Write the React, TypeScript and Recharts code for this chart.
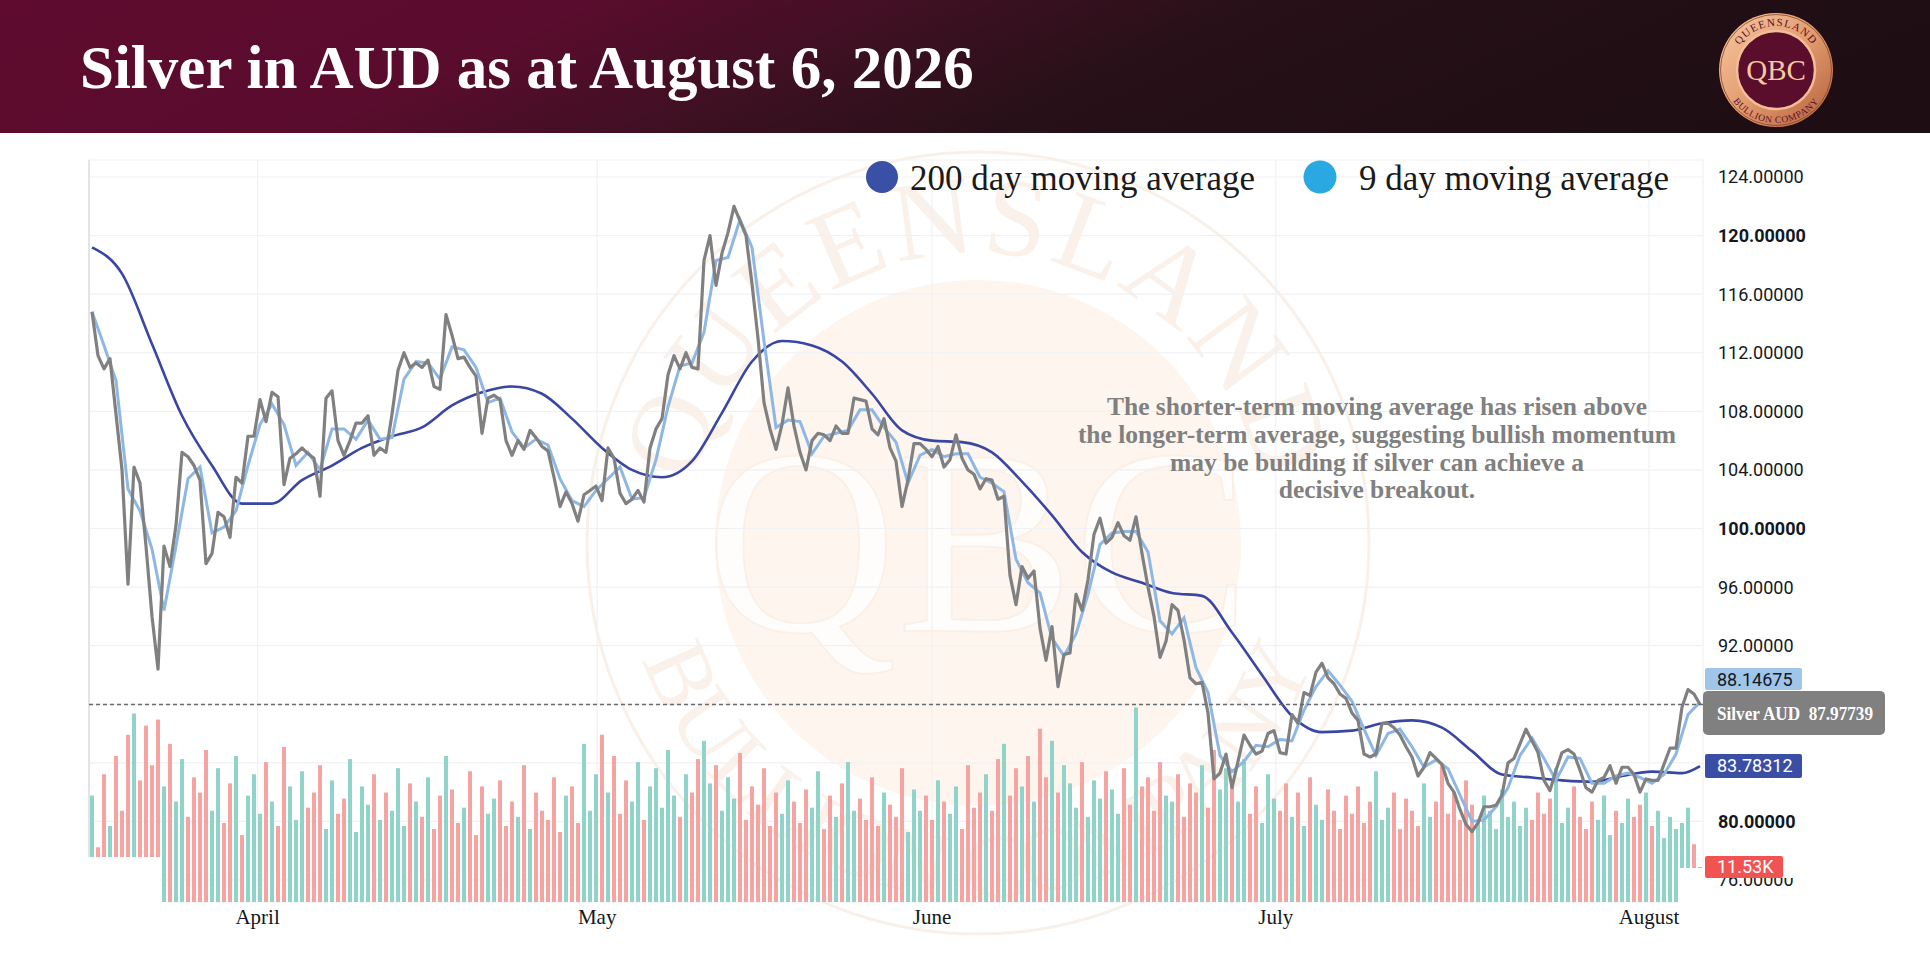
import React from 'react';
import { ComposedChart, Line, Bar, Cell, XAxis, YAxis, CartesianGrid, ReferenceLine } from 'recharts';

const SERIF = "'Liberation Serif', 'Times New Roman', serif";
const SANS = "Roboto, 'Noto Sans', sans-serif";

// Silver AUD price, one sample per ~1/3 trading day
const price = [
  114.8, 111.8, 110.9, 111.6, 107.8, 104.0, 96.2, 104.2, 103.1, 98.8,
  94.0, 90.4, 98.8, 97.4, 100.2, 105.2, 104.9, 104.3, 103.3, 97.6,
  98.3, 101.1, 100.8, 99.4, 103.5, 103.1, 106.3, 106.3, 108.8, 107.3,
  109.3, 109.0, 103.0, 104.8, 105.1, 105.5, 105.1, 104.8, 102.2, 108.9,
  109.4, 106.0, 105.0, 106.0, 107.2, 107.2, 107.7, 105.0, 105.5, 105.2,
  107.8, 110.8, 112.0, 111.0, 111.3, 111.0, 111.5, 109.7, 109.5, 114.6,
  113.2, 111.6, 111.7, 111.0, 110.4, 106.5, 108.9, 109.1, 108.8, 106.0,
  105.0, 106.0, 105.4, 106.7, 106.2, 105.6, 105.3, 103.5, 101.5, 102.5,
  101.7, 100.5, 102.3, 102.6, 102.9, 101.9, 105.5, 104.8, 102.4, 101.7,
  102.0, 102.6, 101.8, 105.5, 106.8, 107.5, 110.5, 111.8, 110.9, 112.0,
  111.0, 110.9, 118.3, 120.0, 116.6, 118.8, 120.2, 122.0, 121.0, 120.0,
  116.7, 113.0, 108.6, 106.8, 105.4, 107.1, 109.6, 107.0, 105.2, 104.0,
  106.0, 106.5, 106.4, 106.0, 107.0, 106.5, 106.5, 108.9, 108.8, 108.7,
  106.8, 106.4, 107.5, 105.5, 104.6, 101.5, 103.3, 105.8, 105.8, 105.4,
  104.9, 105.6, 104.2, 104.7, 106.4, 104.8, 104.0, 103.7, 102.7, 103.4,
  103.3, 102.0, 102.2, 96.8, 94.8, 97.4, 96.6, 97.1, 93.2, 91.0,
  93.3, 89.2, 91.4, 91.5, 95.5, 94.4, 96.5, 99.6, 100.7, 99.0,
  99.4, 100.4, 99.5, 99.2, 100.8, 98.3, 96.0, 94.0, 91.2, 92.3,
  94.8, 94.4, 92.4, 89.8, 89.4, 89.5, 87.4, 82.9, 83.3, 84.6,
  82.3, 84.1, 85.9, 85.2, 84.6, 84.8, 86.0, 86.2, 84.7, 84.6,
  87.3, 86.7, 88.8, 88.6, 90.2, 90.8, 89.8, 89.4, 88.7, 88.4,
  87.4, 86.9, 84.6, 84.4, 84.6, 86.7, 86.7, 86.4, 85.9, 85.1,
  84.4, 83.1, 83.7, 84.7, 84.3, 83.9, 82.6, 82.0, 80.8, 79.8,
  79.3, 79.9, 81.0, 81.0, 81.1, 81.8, 84.0, 84.3, 85.3, 86.3,
  85.5, 84.7, 82.8, 82.1, 83.5, 84.7, 84.9, 84.6, 83.5, 82.3,
  82.0, 82.8, 83.0, 83.8, 82.6, 83.7, 83.7, 83.2, 82.0, 82.9,
  82.8, 82.8, 83.9, 85.0, 85.0, 87.8, 89.0, 88.7, 87.97739,
];

// 9 day moving average, every second sample
const ma9Every2 = [
  114.8, 112.5, 110.1, 102.7, 101.2, 98.6, 94.4, 98.8, 103.4, 104.2,
  99.7, 100.1, 101.2, 104.3, 107.1, 108.5, 107.1, 104.3, 105.2, 104.0,
  106.8, 106.8, 106.1, 107.4, 106.1, 106.2, 110.2, 111.4, 111.3, 110.2,
  112.4, 112.2, 111.0, 108.6, 108.9, 106.6, 105.5, 106.1, 105.7, 103.4,
  101.9, 101.5, 102.6, 103.4, 104.2, 102.0, 102.1, 104.7, 108.3, 111.1,
  111.3, 113.4, 118.3, 118.5, 121.1, 119.2, 112.8, 106.9, 107.4, 107.3,
  105.1, 106.3, 106.5, 106.7, 108.1, 108.1, 106.9, 105.9, 103.1, 105.0,
  105.4, 104.9, 105.1, 105.1, 103.5, 103.1, 102.5, 97.9, 96.3, 95.6,
  92.5, 91.3, 92.8, 95.5, 98.9, 99.7, 99.8, 99.8, 98.4, 93.7,
  92.8, 93.9, 90.5, 88.8, 84.5, 83.4, 84.1, 85.2, 85.1, 85.6,
  85.5, 87.6, 89.2, 90.3, 89.3, 88.2, 86.3, 84.5, 86.0, 86.3,
  85.1, 83.7, 84.2, 83.6, 81.8, 80.0, 80.1, 81.0, 82.3, 84.5,
  85.7, 84.3, 82.8, 84.4, 84.3, 82.6, 82.6, 83.1, 83.3, 83.0,
  82.6, 83.2, 84.6, 87.3, 88.14675,
];

// 200 day moving average, every fifth sample, plus the last value
const ma200Every5 = [
  119.2, 117.4, 112.6, 107.7, 104.3, 101.7, 101.7, 103.3, 104.3, 105.5,
  106.3, 106.9, 108.4, 109.3, 109.7, 109.2, 107.5, 105.5, 104.0, 103.5,
  104.6, 107.9, 111.4, 112.8, 112.5, 111.4, 109.2, 106.7, 106.0, 105.9,
  105.2, 103.2, 100.9, 98.4, 97.0, 96.3, 95.6, 95.4, 92.9, 90.0,
  87.2, 86.1, 86.2, 86.7, 86.9, 86.4, 84.8, 83.2, 83.0, 82.8,
  82.7, 83.1, 83.4, 83.3,
];
const ma200Last = 83.78312;

// volume (thousands)
const volume = [
  35, 18, 42, 25, 48, 30, 55, 62, 40, 58,
  45, 60, 38, 52, 33, 47, 28, 41, 36, 50,
  30, 44, 26, 39, 48, 22, 35, 42, 29, 46,
  33, 25, 51, 38, 27, 43, 31, 36, 45, 24,
  40, 29, 34, 47, 23, 38, 32, 42, 27, 36,
  30, 44, 25, 39, 33, 28, 41, 24, 35, 48,
  37, 26, 31, 43, 22, 38, 29, 34, 40, 25,
  33, 28, 45, 24, 36, 30, 27, 41, 23, 35,
  38, 26, 52, 30, 42, 55, 36, 48, 29, 40,
  33, 46, 27, 38, 44, 31, 50, 35, 28, 42,
  36, 47, 53, 39, 45, 30, 41, 34, 49, 27,
  38, 32, 44, 25, 36, 29, 40, 33, 26, 37,
  31, 43, 24, 35, 28, 39, 46, 30, 34, 27,
  41, 25, 36, 32, 28, 44, 23, 37, 30, 35,
  27, 40, 33, 29, 38, 24, 45, 31, 36, 42,
  30, 47, 52, 35, 44, 38, 48, 33, 57, 41,
  53, 36, 45, 39, 31, 46, 28, 40, 34, 43,
  37, 29, 44, 32, 64, 38, 41, 30, 46, 35,
  33, 42, 28, 39, 36, 45, 31, 50, 37, 44,
  40, 33, 47, 29, 38, 26, 42, 34, 30, 39,
  28, 36, 25, 41, 32, 27, 37, 30, 24, 35,
  29, 38, 26, 33, 43, 27, 31, 36, 24, 34,
  30, 25, 39, 28, 33, 45, 29, 36, 27, 40,
  32, 26, 35, 30, 24, 37, 28, 33, 25, 31,
  27, 36, 29, 34, 44, 26, 31, 38, 28, 24,
  33, 27, 35, 22, 30, 26, 34, 28, 32, 36,
  25, 30, 21, 28, 24, 26, 31, 19, 11.53,
];

const monthLabels = ['April', 'May', 'June', 'July', 'August'];
const monthTicks = [27.6, 84.2, 140, 197.3, 259.5];
const priceTicks = [76, 80, 84, 88, 92, 96, 100, 104, 108, 112, 116, 120, 124];
// tick labels hidden behind the last-value labels in the reference
const coveredTicks = [84, 88];

const lastPrice = 87.97739;
const lastMa9 = 88.14675;
const lastVolume = 11.53;

const data = price.map((p, i) => ({
  i,
  price: p,
  ma9: i % 2 === 0 ? ma9Every2[i / 2] : null,
  ma200: i === price.length - 1 ? ma200Last : i % 5 === 0 ? ma200Every5[i / 5] : null,
  vol: volume[i],
  up: i === 0 ? true : p >= price[i - 1],
}));

function PriceTick(props: any) {
  const { x, y, payload } = props;
  const v = payload.value as number;
  if (coveredTicks.includes(v)) return <g />;
  const partly = v === 76;
  return (
    <g>
      {partly && (
        <defs>
          <clipPath id="tick76clip">
            <rect x={x} y={y - 2} width={150} height={40} />
          </clipPath>
        </defs>
      )}
      <text x={x + 7} y={y} dy="0.36em" textAnchor="start" fontFamily={SANS} fontSize={18}
        fontWeight={v % 20 === 0 ? 700 : 400} fill="#131722"
        clipPath={partly ? 'url(#tick76clip)' : undefined}>
        {v.toFixed(5)}
      </text>
    </g>
  );
}

function MonthTick(props: any) {
  const { x, y, payload } = props;
  const idx = monthTicks.indexOf(payload.value);
  return (
    <text x={x} y={y + 14} textAnchor="middle" fontFamily={SERIF} fontSize={21} fill="#131722">
      {monthLabels[idx]}
    </text>
  );
}

function SideLabel(props: any) {
  const { viewBox, text, bg, color, w, h, shift, rx, serif, bold, pad, textLength } = props;
  const left = viewBox.x + viewBox.width + (props.gap ?? 2);
  const cy = viewBox.y + shift;
  return (
    <g>
      <rect x={left} y={cy - h / 2} width={w} height={h} rx={rx} ry={rx} fill={bg} />
      <text x={left + pad} y={cy} dy="0.36em" fontFamily={serif ? SERIF : SANS} fontSize={serif ? 19 : 18}
        fontWeight={bold ? 700 : 400} fill={color}
        textLength={textLength} lengthAdjust={textLength ? 'spacingAndGlyphs' : undefined}>
        {text}
      </text>
    </g>
  );
}

export default function App() {
  const cx = 978;
  const cy = 543;
  return (
    <div style={{ position: 'relative', width: 1930, height: 965, background: '#ffffff', overflow: 'hidden' }}>
      <style>{'body{margin:0;}'}</style>
      <svg width={1930} height={965} style={{ position: 'absolute', left: 0, top: 0 }}>
        <defs>
          <linearGradient id="hdr" x1="0" y1="0" x2="1" y2="0.15">
            <stop offset="0" stopColor="#5e0b2e" />
            <stop offset="0.3" stopColor="#5a0c2d" />
            <stop offset="0.48" stopColor="#3e1022" />
            <stop offset="0.65" stopColor="#271018" />
            <stop offset="1" stopColor="#1e0e13" />
          </linearGradient>
          <linearGradient id="cop" x1="0" y1="0" x2="1" y2="1">
            <stop offset="0" stopColor="#f8c9a2" />
            <stop offset="0.5" stopColor="#e39c70" />
            <stop offset="1" stopColor="#b15e38" />
          </linearGradient>
          <path id="logoTop" d="M -44 0 A 44 44 0 0 1 44 0" fill="none" />
          <path id="logoBot" d="M -53 0 A 53 53 0 0 0 53 0" fill="none" />
          <path id="wmTop" d={`M ${cx - 290} ${cy} A 290 290 0 0 1 ${cx + 290} ${cy}`} fill="none" />
          <path id="wmBot" d={`M ${cx - 355} ${cy} A 355 355 0 0 0 ${cx + 355} ${cy}`} fill="none" />
        </defs>
        <rect x={0} y={0} width={1930} height={133} fill="url(#hdr)" />
        <text x={80} y={88} fontFamily={SERIF} fontWeight={700} fontSize={61} fill="#ffffff">
          Silver in AUD as at August 6, 2026
        </text>
        <g transform="translate(1776,70)">
          <circle r={57} fill="url(#cop)" />
          <circle r={55.5} fill="none" stroke="#8a4526" strokeWidth={0.8} />
          <circle r={39} fill="#5b0e2b" stroke="#f3bd96" strokeWidth={2.5} />
          <text fontFamily={SERIF} fontSize={11} fill="#5b0e2b" letterSpacing={1.2}>
            <textPath href="#logoTop" startOffset="50%" textAnchor="middle">QUEENSLAND</textPath>
          </text>
          <text fontFamily={SERIF} fontSize={9.5} fill="#5b0e2b" letterSpacing={0.6}>
            <textPath href="#logoBot" startOffset="50%" textAnchor="middle">BULLION COMPANY</textPath>
          </text>
          <text y={10} textAnchor="middle" fontFamily={SERIF} fontSize={29} fill="#f4c9a6">QBC</text>
        </g>
        {/* watermark */}
        <circle cx={cx} cy={cy} r={391} fill="none" stroke="#f8f0e9" strokeWidth={3} />
        <circle cx={cx} cy={cy} r={263} fill="#fdf5ee" />
        <text x={cx} y={cy + 88} textAnchor="middle" fontFamily={SERIF} fontSize={265} fill="#fffdfb"
          stroke="#faf0e8" strokeWidth={2}>QBC</text>
        <text fontFamily={SERIF} fontSize={112} fill="#faf1ea" letterSpacing={4}>
          <textPath href="#wmTop" startOffset="50%" textAnchor="middle">QUEENSLAND</textPath>
        </text>
        <text fontFamily={SERIF} fontSize={92} fill="#faf1ea">
          <textPath href="#wmBot" startOffset="50%" textAnchor="middle">BULLION COMPANY</textPath>
        </text>
      </svg>

      <div style={{ position: 'absolute', left: 0, top: 0 }}>
        <ComposedChart width={1930} height={965} data={data}
          margin={{ top: 160, right: 27, bottom: 23, left: 89 }}>
          <CartesianGrid stroke="#f1f1f3" strokeWidth={1.2} />
          <XAxis dataKey="i" type="number" domain={[-0.5, 268.5]} ticks={monthTicks} interval={0}
            tick={<MonthTick />} tickLine={false} axisLine={false} height={40} allowDataOverflow />
          <YAxis orientation="right" domain={[74.498, 125.161]} ticks={priceTicks} interval={0} width={200}
            tick={<PriceTick />} tickLine={false} axisLine={false} allowDataOverflow />
          <YAxis yAxisId="v" hide domain={[0, 244]} allowDataOverflow />
          <Bar yAxisId="v" dataKey="vol" barSize={4} isAnimationActive={false}>
            {data.map((d) => (
              <Cell key={d.i} fill={d.up ? '#8fd3c9' : '#f5a4a1'} />
            ))}
          </Bar>
          <ReferenceLine x={-0.5} stroke="#e4e4e6" strokeWidth={2} ifOverflow="extendDomain" />
          <Line dataKey="ma200" type="monotone" stroke="#3a46a3" strokeWidth={2.6} dot={false}
            connectNulls isAnimationActive={false} />
          <Line dataKey="ma9" type="linear" stroke="#8db7e5" strokeWidth={3} dot={false}
            connectNulls isAnimationActive={false} />
          <Line dataKey="price" type="linear" stroke="#808080" strokeWidth={3.2} dot={false}
            strokeLinejoin="round" isAnimationActive={false} />
          <ReferenceLine y={lastPrice} stroke="#6a6a6a" strokeWidth={1.5} strokeDasharray="4 3"
            label={<SideLabel text={'Silver AUD\u00a0\u00a087.97739'} bg="#808080" color="#ffffff" w={182} h={44}
              shift={8.3} rx={5} serif bold pad={14} gap={0} textLength={156} />} />
          <ReferenceLine y={lastMa9} stroke="none"
            label={<SideLabel text="88.14675" bg="#9fc5ea" color="#131722" w={97} h={22} shift={-23}
              rx={2} pad={12} />} />
          <ReferenceLine y={ma200Last} stroke="none"
            label={<SideLabel text="83.78312" bg="#3b4ea6" color="#ffffff" w={97} h={24} shift={0}
              rx={2} pad={12} />} />
          <ReferenceLine yAxisId="v" y={lastVolume} stroke="none"
            label={<SideLabel text="11.53K" bg="#f05352" color="#ffffff" w={78} h={22} shift={0}
              rx={2} pad={12} />} />
        </ComposedChart>
      </div>

      <svg width={1930} height={965} style={{ position: 'absolute', left: 0, top: 0, pointerEvents: 'none' }}>
        <rect x={84} y={857} width={76} height={48} fill="#ffffff" />
        <rect x={1678} y={868} width={26} height={37} fill="#ffffff" />
        <circle cx={882} cy={177} r={16} fill="#3a4fa6" />
        <text x={910} y={190} fontFamily={SERIF} fontSize={35} fill="#1a1a1a">200 day moving average</text>
        <circle cx={1320} cy={177} r={16.5} fill="#2aa8e1" />
        <text x={1359} y={190} fontFamily={SERIF} fontSize={35} fill="#1a1a1a">9 day moving average</text>
        <g fontFamily={SERIF} fontWeight={700} fontSize={25.5} fill="#808080" textAnchor="middle">
          <text x={1377} y={415}>The shorter-term moving average has risen above</text>
          <text x={1377} y={443}>the longer-term average, suggesting bullish momentum</text>
          <text x={1377} y={471}>may be building if silver can achieve a</text>
          <text x={1377} y={498}>decisive breakout.</text>
        </g>
      </svg>
    </div>
  );
}
